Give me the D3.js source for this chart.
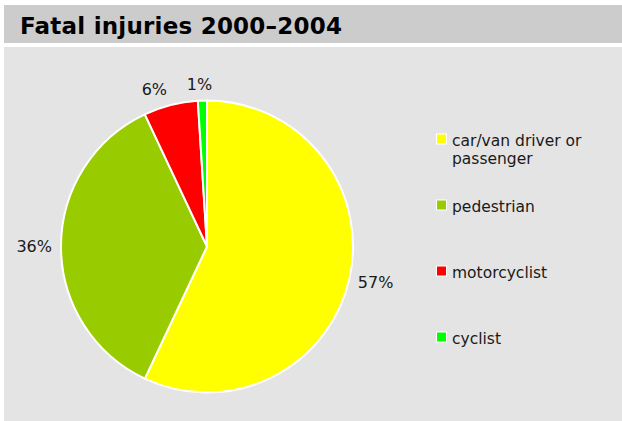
<!DOCTYPE html>
<html>
<head>
<meta charset="utf-8">
<script src="https://cdn.jsdelivr.net/npm/d3@7"></script>
<style>
  body { margin: 0; background: #fff; }
  svg { display: block; font-family: "DejaVu Sans", Verdana, sans-serif; }
</style>
</head>
<body>
<div id="chart"></div>
<script>
const title = 'Fatal injuries 2000\u20132004';
const categories = ['car/van driver or passenger', 'pedestrian', 'motorcyclist', 'cyclist'];
const values = [57, 36, 6, 1];
const labels = ['57%', '36%', '6%', '1%'];
const colourList = ['#ffff00', '#99cc00', '#ff0000', '#00ff00'];

const w = 622;
const h = 421;
const cx = 207, cy = 246.5, r = 146;

const svg = d3.select('#chart')
  .append('svg')
  .attr('width', w)
  .attr('height', h);

// title band
svg.append('rect')
  .attr('x', 4).attr('y', 5)
  .attr('width', w - 4).attr('height', 38)
  .attr('fill', '#cccccc');

svg.append('text')
  .attr('x', 20).attr('y', 34)
  .attr('font-size', 23)
  .attr('font-weight', 'bold')
  .attr('fill', '#000')
  .attr('textLength', 322)
  .attr('lengthAdjust', 'spacing')
  .text(title);

// plot area
svg.append('rect')
  .attr('x', 4).attr('y', 47)
  .attr('width', w - 4).attr('height', h - 47)
  .attr('fill', '#e4e4e4');

const data = categories.map((c, i) => ({ name: c, value: values[i], label: labels[i], colour: colourList[i] }));

const pie = d3.pie()
  .sort(null)
  .value(d => d.value);

const arc = d3.arc().innerRadius(0).outerRadius(r);

const g = svg.append('g')
  .attr('transform', `translate(${cx}, ${cy})`);

const arcs = pie(data);

g.selectAll('path')
  .data(arcs)
  .enter()
  .append('path')
  .attr('d', arc)
  .attr('fill', d => d.data.colour)
  .attr('stroke', '#fff')
  .attr('stroke-width', 2)
  .attr('stroke-linejoin', 'round');

// labels outside the slices
const gap = 9;
const labelSel = g.selectAll('.pie-label')
  .data(arcs)
  .enter()
  .append('text')
  .attr('class', 'pie-label')
  .attr('font-size', 16)
  .attr('fill', '#1a1a1a')
  .attr('text-anchor', 'middle')
  .attr('dominant-baseline', 'central')
  .text(d => d.data.label);

labelSel.each(function (d) {
  const bb = this.getBBox();
  const a = (d.startAngle + d.endAngle) / 2;
  const dx = Math.sin(a), dy = -Math.cos(a);
  // small slices near the top get pushed a little to the left, like the original
  const nudge = d.endAngle - d.startAngle < 0.5 ? -Math.abs(dx) * 40 - 1 : 0;
  const x = dx * (r + gap) + dx * bb.width / 2 + nudge;
  const y = dy * (r + gap) + dy * bb.height / 2 + (nudge ? 2 : 0);
  d3.select(this).attr('x', x).attr('y', y);
});

// legend
const legendY = d3.scaleLinear()
  .domain([0, categories.length - 1])
  .range([133.5, 331.5]);

const legend = svg.selectAll('.legend')
  .data(data)
  .enter()
  .append('g')
  .attr('class', 'legend')
  .attr('transform', (d, i) => `translate(436, ${legendY(i)})`);

legend.append('rect')
  .attr('x', 0.5).attr('y', 0.5)
  .attr('width', 10).attr('height', 10)
  .attr('fill', d => d.colour)
  .attr('stroke', '#fff')
  .attr('stroke-width', 1);

const legendText = legend.append('text')
  .attr('x', 16)
  .attr('y', 12.5)
  .attr('font-size', 15.5)
  .attr('fill', '#1a1a1a');

legendText.each(function (d) {
  const t = d3.select(this);
  const lines = d.name === 'car/van driver or passenger' ? ['car/van driver or', 'passenger'] : [d.name];
  lines.forEach((line, j) => {
    t.append('tspan')
      .attr('x', 16)
      .attr('dy', j === 0 ? 0 : 18)
      .text(line);
  });
});
</script>
</body>
</html>
